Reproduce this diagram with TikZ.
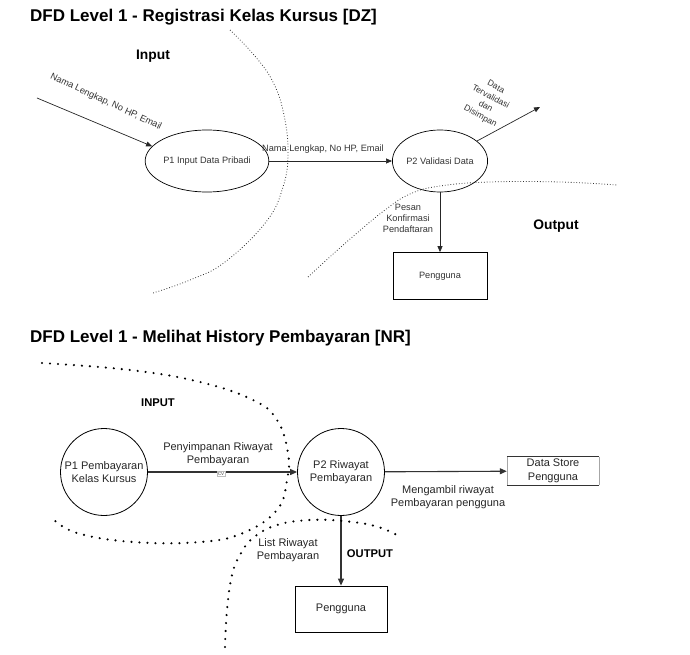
\documentclass[tikz,border=0pt]{standalone}
\usepackage{fontspec}
\setmainfont{Liberation Sans}
\usetikzlibrary{shapes.geometric,arrows.meta}
\begin{document}
\begin{tikzpicture}[x=1pt,y=-1pt,
  title/.style={font=\fontsize{17}{20}\selectfont\bfseries, anchor=west, inner sep=0pt},
  zone/.style={font=\fontsize{13.8}{16}\selectfont\bfseries, inner sep=0pt},
  zoneb/.style={font=\fontsize{11.2}{13}\selectfont\bfseries, inner sep=0pt},
  lbl/.style={font=\fontsize{9.2}{11}\selectfont, text=black!80, inner sep=0pt, align=center},
  blbl/.style={font=\fontsize{11}{13.5}\selectfont, text=black!85, inner sep=0pt, align=center},
  procA/.style={ellipse, draw, line width=0.7pt, minimum width=93pt, minimum height=62pt, inner sep=0pt,
    font=\fontsize{9.2}{11}\selectfont, text=black!80},
  procB/.style={circle, draw, line width=0.8pt, minimum size=87pt, inner sep=0pt, align=center,
    font=\fontsize{11}{13.5}\selectfont, text=black!85},
  entA/.style={draw, line width=0.7pt, minimum width=94pt, minimum height=47pt, inner sep=0pt,
    font=\fontsize{9.2}{11}\selectfont, text=black!80},
  entB/.style={draw, line width=0.8pt, minimum width=92pt, minimum height=46pt, inner sep=0pt,
    font=\fontsize{11}{13.5}\selectfont, text=black!85},
  arrA/.style={draw=black!85, line width=0.7pt, -{Triangle[length=6pt,width=5pt]}},
  arrB/.style={draw=black!80, line width=1.1pt, -{Triangle[length=7pt,width=6pt]}},
  fine/.style={draw=black!80, line width=0.8pt, dash pattern=on 0.8pt off 2pt},
  dots/.style={draw=black, line width=2.4pt, line cap=round, dash pattern=on 0pt off 8pt}
]
\path[use as bounding box] (0,0) rectangle (690,655);

% ---------- Top diagram ----------
\node[title] (t1) at (30,17) {DFD Level 1 - Registrasi Kelas Kursus [DZ]};
\node[zone] (inA) at (153,56) {Input};
\node[zone] (outA) at (556,226) {Output};

\node[procA] (p1) at (207,161) {P1 Input Data Pribadi};
\node[procA] (p2) at (440,161) {P2 Validasi Data};
\node[entA] (u1) at (440,276) {Pengguna};

\coordinate (srcA) at (37,98);
\coordinate (dstA) at (540,107);

\draw[arrA] (srcA) -- (p1.165);
\draw[arrA] (p1) -- (p2);
\draw[arrA] (p2) -- (dstA);
\draw[arrA] (p2) -- (u1);

\node[lbl, rotate=-25] (l1) at (106,102) {Nama Lengkap, No HP, Email};
\node[lbl] (l2) at (323,149) {Nama Lengkap, No HP, Email};
\node[lbl, rotate=-28, font=\fontsize{8.6}{11}\selectfont] (l3) at (488,102) {Data\\Tervalidasi\\dan\\Disimpan};
\node[lbl] (l4) at (408,218) {Pesan\\Konfirmasi\\Pendaftaran};

\draw[fine] plot[smooth, tension=0.7] coordinates {(230,30) (254,55) (273,82) (284,115) (288,153) (283,187) (266,222) (225,262) (190,280) (153,293)};
\draw[fine] plot[smooth, tension=0.7] coordinates {(308,277) (332,255) (357,233) (385,210) (410,194) (440,186) (490,182) (560,182) (617,185)};

% ---------- Bottom diagram ----------
\node[title] (t2) at (30,338) {DFD Level 1 - Melihat History Pembayaran [NR]};
\node[zoneb] (inB) at (158,403) {INPUT};
\node[zoneb] (outB) at (370,554) {OUTPUT};

\node[procB] (q1) at (104,472) {P1 Pembayaran\\Kelas Kursus};
\node[procB] (q2) at (341,472) {P2 Riwayat\\Pembayaran};
\node[entB] (u2) at (341,609) {Pengguna};
\node[minimum width=92pt, minimum height=28pt, inner sep=0pt, align=center,
      font=\fontsize{11}{13.5}\selectfont, text=black!85] (ds) at (553,471) {Data Store\\Pengguna};
\draw[black!35, line width=0.6pt] (ds.north west) -- (ds.south west) (ds.north east) -- (ds.south east);
\draw[black!80, line width=0.9pt] (ds.north west) -- (ds.north east) (ds.south west) -- (ds.south east);

\draw[arrB] (q1) -- (q2);
\draw[arrB] (q2) -- (ds);
\draw[arrB] (q2) -- (u2);

\node[blbl] (m1) at (218,454) {Penyimpanan Riwayat\\Pembayaran};
\node[draw=black!25, fill=white, inner sep=0.8pt, font=\fontsize{6}{7}\selectfont, text=black!60] (cv) at (221,474) {cv};
\node[blbl] (m2) at (448,497) {Mengambil riwayat\\Pembayaran pengguna};
\node[blbl] (m3) at (288,550) {List Riwayat\\Pembayaran};

\draw[dots] plot[smooth, tension=0.7] coordinates {(42,363) (130,370) (200,382) (253,400) (277,420) (288,453) (287,480) (277,510) (243,533) (200,542) (133,542) (77,533) (52,518)};
\draw[dots] plot[smooth, tension=0.7] coordinates {(225,647) (227,610) (232,575) (240,555) (253,538) (277,525) (310,520) (343,521) (375,526) (397,535)};
\end{tikzpicture}
\end{document}
